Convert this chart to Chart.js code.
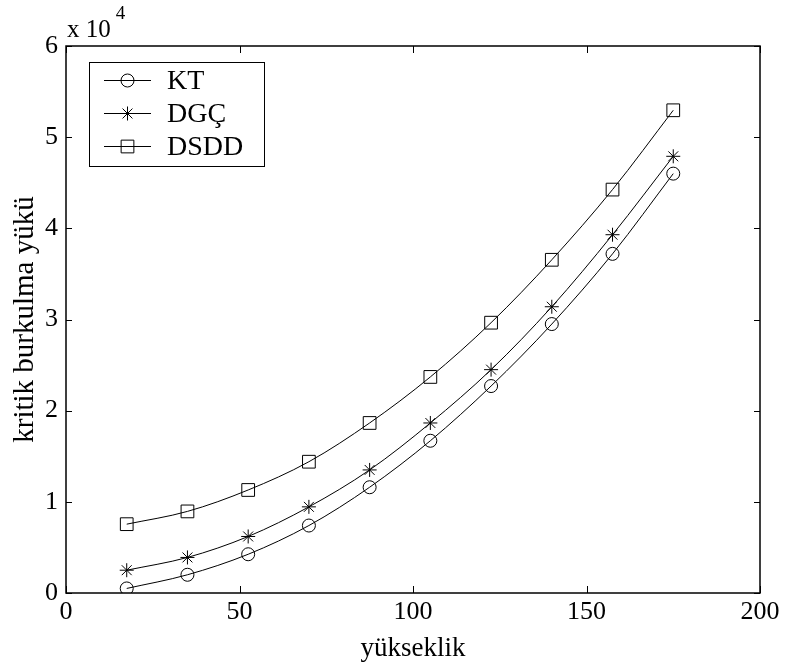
<!DOCTYPE html>
<html>
<head>
<meta charset="utf-8">
<script src="https://cdn.jsdelivr.net/npm/chart.js@4/dist/chart.umd.min.js"></script>
<style>
  html, body { margin: 0; padding: 0; background: #fff; }
  #wrap { width: 788px; height: 668px; }
</style>
</head>
<body>
<div id="wrap"><canvas id="c" width="788" height="668"></canvas></div>
<script>
// Heights and critical buckling loads for the three methods
const heights   = [17.5, 35, 52.5, 70, 87.5, 105, 122.5, 140, 157.5, 175];
const ktLoads   = [500, 2000, 4250, 7400, 11600, 16700, 22700, 29500, 37200, 46000];
const dgcLoads  = [2500, 3900, 6200, 9450, 13500, 18650, 24500, 31400, 39300, 47900];
const dsddLoads = [7550, 8950, 11300, 14400, 18650, 23700, 29650, 36550, 44250, 52950];
const seriesNames = ['KT', 'DGÇ', 'DSDD'];
const markerStyles = ['circle', 'star', 'rect'];
const markerRadii  = [6.5, 7, 9];
const xTickValues = [0, 50, 100, 150, 200];
const yTickValues = [0, 10000, 20000, 30000, 40000, 50000, 60000];
const yExponent = 4;

const SERIF = '"Liberation Serif", "Times New Roman", serif';

function pairs(xs, ys) { return xs.map((x, i) => ({ x: x, y: ys[i] })); }

const seriesValues = [ktLoads, dgcLoads, dsddLoads];
const datasets = seriesNames.map((name, i) => ({
  label: name,
  data: pairs(heights, seriesValues[i]),
  borderColor: '#000',
  borderWidth: 1,
  backgroundColor: 'rgba(0,0,0,0)',
  pointStyle: markerStyles[i],
  pointRadius: markerRadii[i],
  pointBorderColor: '#000',
  pointBorderWidth: 1,
  pointBackgroundColor: 'rgba(0,0,0,0)',
  cubicInterpolationMode: 'monotone',
  fill: false
}));

// Box frame, inward ticks, exponent label and legend
const framePlugin = {
  id: 'frame',
  afterDraw(chart) {
    const { ctx, chartArea: a, scales } = chart;
    const tl = 7;
    ctx.save();
    ctx.strokeStyle = '#000';
    ctx.lineWidth = 1;
    xTickValues.forEach(v => {
      const px = Math.round(scales.x.getPixelForValue(v)) + 0.5;
      ctx.beginPath();
      ctx.moveTo(px, a.bottom); ctx.lineTo(px, a.bottom - tl);
      ctx.moveTo(px, a.top); ctx.lineTo(px, a.top + tl);
      ctx.stroke();
    });
    yTickValues.forEach(v => {
      const py = Math.round(scales.y.getPixelForValue(v)) + 0.5;
      ctx.beginPath();
      ctx.moveTo(a.left, py); ctx.lineTo(a.left + tl - 1, py);
      ctx.moveTo(a.right, py); ctx.lineTo(a.right - tl + 1, py);
      ctx.stroke();
    });
    ctx.lineWidth = 1.5;
    ctx.strokeRect(a.left, a.top, a.right - a.left, a.bottom - a.top);

    // exponent label
    ctx.fillStyle = '#000';
    ctx.textBaseline = 'alphabetic';
    ctx.textAlign = 'left';
    ctx.font = '25px ' + SERIF;
    ctx.fillText('x 10', a.left + 1, a.top - 9);
    const w = ctx.measureText('x 10').width;
    ctx.font = '19px ' + SERIF;
    ctx.fillText(String(yExponent), a.left + 6 + w, a.top - 27);

    // legend
    const lx = 89, ly = 62, lw = 175, lh = 104;
    ctx.fillStyle = '#fff';
    ctx.fillRect(lx, ly, lw, lh);
    ctx.lineWidth = 1;
    ctx.strokeStyle = '#000';
    ctx.strokeRect(lx + 0.5, ly + 0.5, lw, lh);
    const rows = [80, 113, 146];
    ctx.font = '28px ' + SERIF;
    ctx.textBaseline = 'middle';
    chart.data.datasets.forEach((ds, i) => {
      const y = rows[i] + 0.5;
      ctx.beginPath();
      ctx.moveTo(104, y); ctx.lineTo(151, y);
      ctx.stroke();
      ctx.fillStyle = 'rgba(0,0,0,0)';
      Chart.helpers.drawPoint(ctx, {
        pointStyle: ds.pointStyle, radius: ds.pointRadius, borderWidth: 1, rotation: 0
      }, 127.5, y);
      ctx.fillStyle = '#000';
      ctx.fillText(ds.label, 167, rows[i] + 2);
    });
    ctx.restore();
  }
};

new Chart(document.getElementById('c'), {
  type: 'line',
  data: { datasets: datasets },
  options: {
    responsive: false,
    animation: false,
    devicePixelRatio: 1,
    layout: { padding: { top: 46, right: 28, left: 0, bottom: 0 } },
    plugins: { legend: { display: false }, tooltip: { enabled: false } },
    scales: {
      x: {
        type: 'linear',
        min: 0, max: 200,
        afterFit(s) { s.height = 75; },
        afterBuildTicks(s) { s.ticks = xTickValues.map(v => ({ value: v })); },
        grid: { display: false, drawTicks: false },
        border: { display: false },
        ticks: { color: '#000', padding: 4, font: { family: SERIF, size: 26 } },
        title: { display: true, text: 'yükseklik', color: '#000', padding: { top: 0, bottom: 3 },
                 font: { family: SERIF, size: 27 } }
      },
      y: {
        type: 'linear',
        min: 0, max: 60000,
        afterFit(s) { s.width = 66; },
        afterBuildTicks(s) { s.ticks = yTickValues.map(v => ({ value: v })); },
        grid: { display: false, drawTicks: false },
        border: { display: false },
        ticks: { color: '#000', padding: 8, font: { family: SERIF, size: 26 },
                 callback: v => String(v / Math.pow(10, yExponent)) },
        title: { display: true, text: 'kritik burkulma yükü', color: '#000', padding: { top: 8, bottom: 0 },
                 font: { family: SERIF, size: 29 } }
      }
    }
  },
  plugins: [framePlugin]
});
</script>
</body>
</html>
